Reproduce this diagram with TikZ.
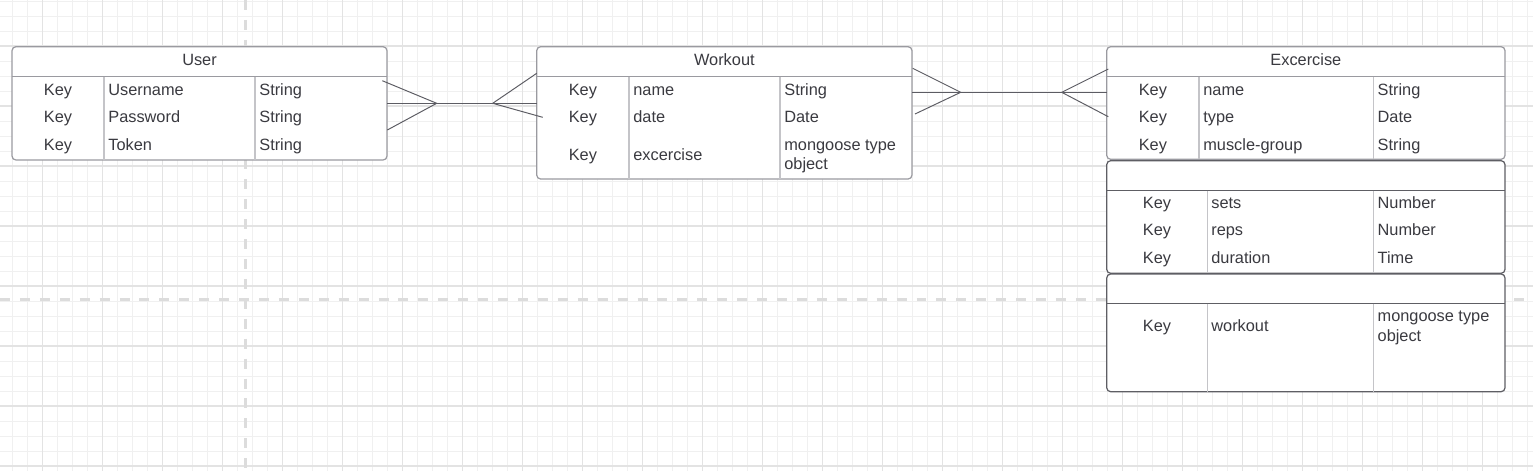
\documentclass[tikz,border=0pt]{standalone}
\usepackage{fontspec}
\setmainfont{Liberation Sans}
\definecolor{ink}{HTML}{3A3A40}
\definecolor{edge}{HTML}{9A9AA0}
\definecolor{darkedge}{HTML}{5E5E64}
\definecolor{rulec}{HTML}{C4C4C8}
\definecolor{relc}{HTML}{5C5C63}
\definecolor{gridminor}{HTML}{F0F0F0}
\definecolor{gridmajor}{HTML}{E3E3E3}
\definecolor{guidec}{HTML}{DCDCDC}
\tikzset{
  tbl/.style={draw=edge, fill=white, line width=0.7pt, rounded corners=2.2pt, inner sep=0pt, outer sep=0pt},
  hdrline/.style={draw=edge, line width=0.7pt},
  colline/.style={draw=rulec, line width=0.8pt},
  title/.style={inner sep=0pt, anchor=base},
  keycell/.style={inner sep=0pt, anchor=base},
  txtcell/.style={inner sep=0pt, anchor=base west, align=left},
  rel/.style={draw=relc, line width=0.55pt},
  guide/.style={draw=guidec, line width=1.7pt, dash pattern=on 5.67pt off 5.67pt}
}
\begin{document}
\begin{tikzpicture}[x=0.02cm, y=-0.02cm, font=\fontsize{9.3}{11.17}\selectfont, text=ink]
\useasboundingbox[fill=white] (0,0) rectangle (1533,471);

% background grid
\foreach \i in {0,...,101} \draw[gridminor, line width=0.5pt] (12.3+15*\i,0) -- (12.3+15*\i,471);
\foreach \i in {0,...,31} \draw[gridminor, line width=0.5pt] (0,1+15*\i) -- (1533,1+15*\i);
\foreach \i in {0,...,24} \draw[gridmajor, line width=0.6pt] (42.3+60*\i,0) -- (42.3+60*\i,471);
\foreach \i in {0,...,7} \draw[gridmajor, line width=0.6pt] (0,46+60*\i) -- (1533,46+60*\i);
\draw[guide] (245.3,0) -- (245.3,471);
\draw[guide] (0,299.3) -- (1533,299.3);

% User
\node[tbl, minimum width=7.5cm, minimum height=2.266cm] (user) at (199.5,103.35) {};
\draw[hdrline] (user.west |- 0,76.7) -- (user.east |- 0,76.7);
\draw[colline] (104,76.7) -- (104,160);
\draw[colline] (255,76.7) -- (255,160);
\node[title] (usertitle) at (199.5,65.8) {User};
\foreach \y/\n/\t [count=\i] in {95/Username/String, 122.5/Password/String, 150/Token/String} {
  \node[keycell] (ukey\i) at (58,\y) {Key};
  \node[txtcell] (uname\i) at (108,\y) {\n};
  \node[txtcell] (utype\i) at (259,\y) {\t};
}

% Workout
\node[tbl, minimum width=7.506cm, minimum height=2.646cm] (workout) at (724.35,112.85) {};
\draw[hdrline] (workout.west |- 0,76.7) -- (workout.east |- 0,76.7);
\draw[colline] (629,76.7) -- (629,179);
\draw[colline] (780,76.7) -- (780,179);
\node[title] (workouttitle) at (724.35,65.8) {Workout};
\foreach \y/\n/\t [count=\i] in {95/name/String, 122.5/date/Date} {
  \node[keycell] (wkey\i) at (582.85,\y) {Key};
  \node[txtcell] (wname\i) at (633,\y) {\n};
  \node[txtcell] (wtype\i) at (784,\y) {\t};
}
\node[keycell] (wkey3) at (582.85,160.1) {Key};
\node[txtcell] (wname3) at (633,160.1) {excercise};
\node[txtcell] (wtype3) at (784,169.8) {mongoose type\\object};

% Excercise
\node[tbl, minimum width=7.966cm, minimum height=2.252cm] (exc) at (1305.85,103) {};
\draw[hdrline] (exc.west |- 0,76.7) -- (exc.east |- 0,76.7);
\draw[colline] (1199,76.7) -- (1199,159.3);
\draw[colline] (1373.3,76.7) -- (1373.3,159.3);
\node[title] (exctitle) at (1305.85,65.8) {Excercise};
\foreach \y/\n/\t [count=\i] in {95/name/String, 122.5/type/Date, 150/muscle-group/String} {
  \node[keycell] (ekey\i) at (1152.85,\y) {Key};
  \node[txtcell] (ename\i) at (1203,\y) {\n};
  \node[txtcell] (etype\i) at (1377.3,\y) {\t};
}

\node[tbl, draw=darkedge, minimum width=7.966cm, minimum height=2.252cm] (excsets) at (1305.85,217) {};
\draw[hdrline, draw=darkedge] (excsets.west |- 0,190.7) -- (excsets.east |- 0,190.7);
\draw[colline] (1207.3,190.7) -- (1207.3,273.3);
\draw[colline] (1373.3,190.7) -- (1373.3,273.3);
\foreach \y/\n/\t [count=\i] in {208.1/sets/Number, 235.8/reps/Number, 263.1/duration/Time} {
  \node[keycell] (skey\i) at (1157,\y) {Key};
  \node[txtcell] (sname\i) at (1211,\y) {\n};
  \node[txtcell] (stype\i) at (1377.3,\y) {\t};
}

\node[tbl, draw=darkedge, minimum width=7.966cm, minimum height=2.354cm] (excref) at (1305.85,332.85) {};
\draw[hdrline, draw=darkedge] (excref.west |- 0,303.7) -- (excref.east |- 0,303.7);
\draw[colline] (1207.3,303.7) -- (1207.3,391.7);
\draw[colline] (1373.3,303.7) -- (1373.3,391.7);
\node[keycell] (rkey1) at (1157,331.5) {Key};
\node[txtcell] (rname1) at (1211,331.5) {workout};
\node[txtcell] (rtype1) at (1377.3,341.2) {mongoose type\\object};

% User -- Workout
\coordinate (uwfoot) at (436.7,103.3);
\coordinate (uwhead) at (492.7,103.3);
\coordinate (uwa) at (382.3,80.7);
\coordinate (uwb) at (387.3,130);
\coordinate (uwc) at (536.7,73.3);
\coordinate (uwd) at (542.7,117.3);
\draw[rel] (user.east |- uwfoot) -- (workout.west |- uwfoot);
\draw[rel] (uwa) -- (uwfoot) -- (uwb);
\draw[rel] (uwc) -- (uwhead) -- (uwd);

% Workout -- Excercise
\coordinate (wefoot) at (960.7,92.3);
\coordinate (wehead) at (1061.7,92.3);
\coordinate (wea) at (912.7,68.3);
\coordinate (web) at (915,114);
\coordinate (wec) at (1108.3,69);
\coordinate (wed) at (1108.3,116.7);
\draw[rel] (workout.east |- wefoot) -- (exc.west |- wefoot);
\draw[rel] (wea) -- (wefoot) -- (web);
\draw[rel] (wec) -- (wehead) -- (wed);
\end{tikzpicture}
\end{document}
